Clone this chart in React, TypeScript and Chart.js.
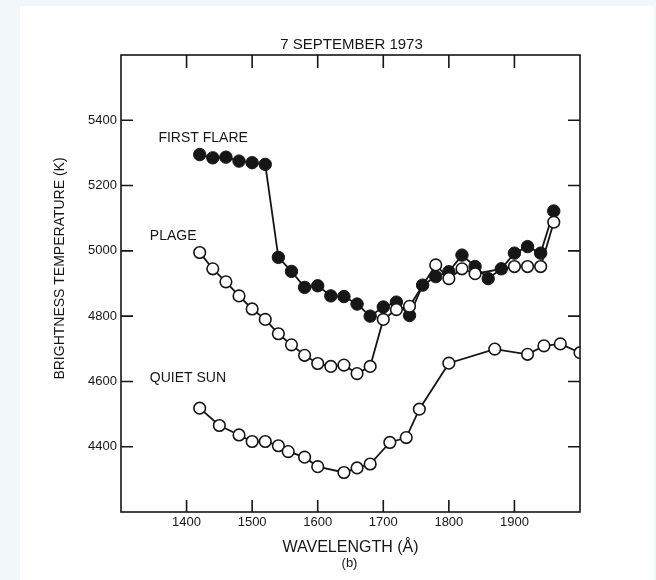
import React, { useEffect, useRef } from 'react';
import { Chart, registerables } from 'chart.js';

Chart.register(...registerables);

const FONT = '"Liberation Sans", Arial, Helvetica, sans-serif';
const INK = '#161616';

// ---- data ----
const flareWavelengths = [1420, 1440, 1460, 1480, 1500, 1520, 1540, 1560, 1580, 1600, 1620, 1640, 1660, 1680, 1700, 1720, 1740, 1760, 1780, 1800, 1820, 1840, 1860, 1880, 1900, 1920, 1940, 1960];
const flareTemps = [5295, 5285, 5287, 5275, 5270, 5265, 4980, 4937, 4888, 4893, 4862, 4860, 4837, 4800, 4828, 4843, 4802, 4895, 4921, 4936, 4987, 4952, 4915, 4945, 4993, 5013, 4993, 5122];

const plageWavelengths = [1420, 1440, 1460, 1480, 1500, 1520, 1540, 1560, 1580, 1600, 1620, 1640, 1660, 1680, 1700, 1720, 1740, 1780, 1800, 1820, 1840, 1900, 1920, 1940, 1960];
const plageTemps = [4995, 4945, 4905, 4862, 4822, 4790, 4746, 4712, 4680, 4655, 4646, 4650, 4624, 4646, 4790, 4820, 4830, 4957, 4915, 4945, 4930, 4952, 4952, 4952, 5088];

const quietWavelengths = [1420, 1450, 1480, 1500, 1520, 1540, 1555, 1580, 1600, 1640, 1660, 1680, 1710, 1735, 1755, 1800, 1870, 1920, 1945, 1970, 2000];
const quietTemps = [4518, 4465, 4436, 4416, 4416, 4403, 4385, 4368, 4339, 4321, 4335, 4347, 4413, 4428, 4515, 4656, 4699, 4683, 4709, 4715, 4688];

const xTickLabels = [1400, 1500, 1600, 1700, 1800, 1900];
const yTickLabels = [4400, 4600, 4800, 5000, 5200, 5400];

const chartTitle = '7 SEPTEMBER 1973';
const xTitle = 'WAVELENGTH (Å)';
const xSubTitle = '(b)';
const yTitle = 'BRIGHTNESS TEMPERATURE (K)';

const seriesLabels = [
  { text: 'FIRST FLARE', x: 1357, y: 5346 },
  { text: 'PLAGE', x: 1344, y: 5045 },
  { text: 'QUIET SUN', x: 1344, y: 4611 },
];

const toPoints = (xs: number[], ys: number[]) => xs.map((x, i) => ({ x, y: ys[i] }));

const decorPlugin = {
  id: 'decor',
  beforeDraw(chart: any) {
    const { ctx, width, height } = chart;
    ctx.save();
    ctx.fillStyle = '#f2f7f9';
    ctx.fillRect(0, 0, width, height);
    ctx.fillStyle = '#ffffff';
    ctx.fillRect(20, 6, 634, 574);
    ctx.restore();
  },
  afterDraw(chart: any) {
    const { ctx, chartArea: a, scales } = chart;
    const xs = scales.x;
    const ys = scales.y;
    ctx.save();
    ctx.strokeStyle = INK;
    ctx.lineWidth = 1.6;
    ctx.strokeRect(a.left, a.top, a.right - a.left, a.bottom - a.top);
    ctx.beginPath();
    for (const v of xTickLabels) {
      const px = xs.getPixelForValue(v);
      ctx.moveTo(px, a.bottom);
      ctx.lineTo(px, a.bottom - 12);
      ctx.moveTo(px, a.top);
      ctx.lineTo(px, a.top + 13);
    }
    for (const v of yTickLabels) {
      const py = ys.getPixelForValue(v);
      ctx.moveTo(a.left, py);
      ctx.lineTo(a.left + 12, py);
      ctx.moveTo(a.right, py);
      ctx.lineTo(a.right - 12, py);
    }
    ctx.stroke();

    ctx.fillStyle = INK;
    ctx.textBaseline = 'middle';
    const cx = (a.left + a.right) / 2;
    ctx.textAlign = 'center';
    ctx.font = `15px ${FONT}`;
    ctx.fillText(chartTitle, cx + 1, 45);
    ctx.font = `16px ${FONT}`;
    ctx.fillText(xTitle, cx, 548);
    ctx.font = `13px ${FONT}`;
    ctx.fillText(xSubTitle, cx - 1, 563);

    ctx.save();
    ctx.translate(60, (a.top + a.bottom) / 2 - 15);
    ctx.rotate(-Math.PI / 2);
    ctx.font = `14px ${FONT}`;
    ctx.fillText(yTitle, 0, 0);
    ctx.restore();

    ctx.textAlign = 'left';
    ctx.font = `14px ${FONT}`;
    for (const s of seriesLabels) {
      ctx.fillText(s.text, xs.getPixelForValue(s.x), ys.getPixelForValue(s.y));
    }
    ctx.restore();
  },
};

export default function App() {
  const ref = useRef<HTMLCanvasElement>(null);
  useEffect(() => {
    document.body.style.margin = '0';
    document.body.style.background = '#f2f7f9';
    const canvas = ref.current!;
    const chart = new Chart(canvas, {
      type: 'line',
      data: {
        datasets: [
          {
            label: 'PLAGE',
            data: toPoints(plageWavelengths, plageTemps),
            borderColor: INK,
            borderWidth: 1.8,
            pointRadius: 5.8,
            pointBorderWidth: 1.6,
            pointBackgroundColor: '#ffffff',
            pointBorderColor: INK,
            order: 0,
          },
          {
            label: 'FIRST FLARE',
            data: toPoints(flareWavelengths, flareTemps),
            borderColor: INK,
            borderWidth: 1.8,
            pointRadius: 6.2,
            pointBorderWidth: 1,
            pointBackgroundColor: INK,
            pointBorderColor: INK,
            order: 1,
          },
          {
            label: 'QUIET SUN',
            data: toPoints(quietWavelengths, quietTemps),
            borderColor: INK,
            borderWidth: 1.8,
            pointRadius: 5.8,
            pointBorderWidth: 1.6,
            pointBackgroundColor: '#ffffff',
            pointBorderColor: INK,
            order: 2,
          },
        ],
      },
      options: {
        responsive: false,
        animation: false,
        events: [],
        layout: { padding: { left: 20, top: 55, right: 76, bottom: 0 } },
        plugins: {
          legend: { display: false },
          title: { display: false },
          tooltip: { enabled: false },
        },
        scales: {
          x: {
            type: 'linear',
            min: 1300,
            max: 2000,
            afterFit: (s: any) => { s.height = 68; },
            grid: { display: false, drawTicks: false },
            border: { display: false },
            ticks: {
              stepSize: 100,
              padding: 3,
              color: INK,
              font: { family: FONT, size: 13 },
              maxRotation: 0,
              autoSkip: false,
              callback: (v: any) => (xTickLabels.includes(Number(v)) ? String(v) : ''),
            },
          },
          y: {
            type: 'linear',
            min: 4200,
            max: 5600,
            afterFit: (s: any) => { s.width = 101; },
            grid: { display: false, drawTicks: false },
            border: { display: false },
            ticks: {
              stepSize: 200,
              padding: 4,
              color: INK,
              font: { family: FONT, size: 13 },
              autoSkip: false,
              callback: (v: any) => (yTickLabels.includes(Number(v)) ? String(v) : ''),
            },
          },
        },
      },
      plugins: [decorPlugin],
    } as any);
    return () => chart.destroy();
  }, []);
  return (
    <div style={{ width: 656, height: 580 }}>
      <canvas ref={ref} width={656} height={580} style={{ display: 'block' }} />
    </div>
  );
}
